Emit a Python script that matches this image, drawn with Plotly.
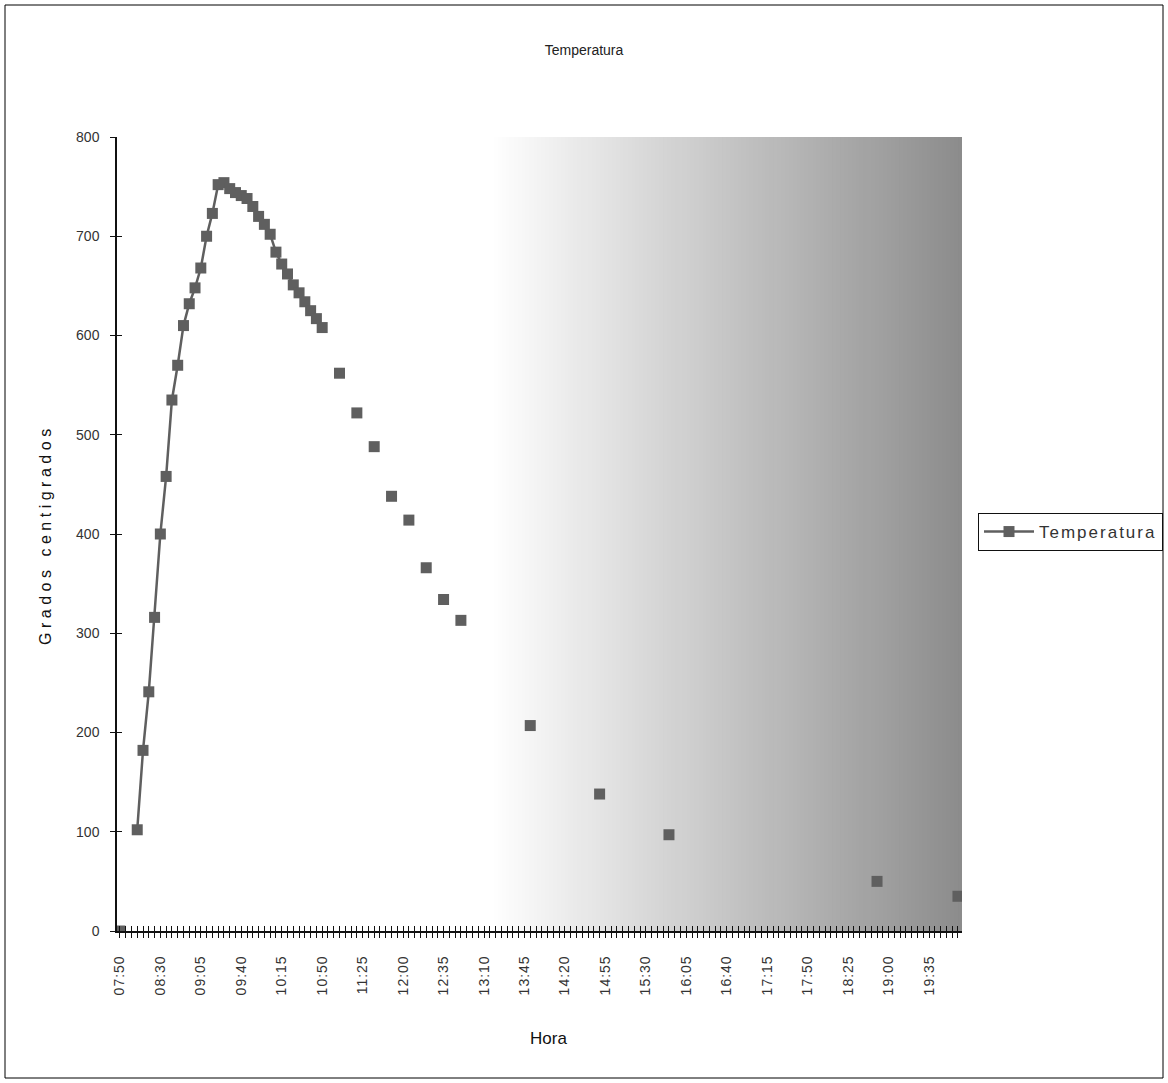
import plotly.graph_objects as go

# ---- data ----
horas_medidas = [
    "07:50",
    "08:10", "08:15", "08:20", "08:25", "08:30", "08:35", "08:40", "08:45",
    "08:50", "08:55", "09:00", "09:05", "09:10", "09:15", "09:20", "09:25",
    "09:30", "09:35", "09:40", "09:45", "09:50", "09:55", "10:00", "10:05",
    "10:10", "10:15", "10:20", "10:25", "10:30", "10:35", "10:40", "10:45",
    "10:50",
    "11:05", "11:20", "11:35", "11:50", "12:05", "12:20", "12:35", "12:50",
    "13:50", "14:50", "15:50", "18:50", "20:00",
]
temperatura = [
    0,
    102, 182, 241, 316, 400, 458, 535, 570,
    610, 632, 648, 668, 700, 723, 752, 754,
    748, 744, 741, 738, 730, 720, 712, 702,
    684, 672, 662, 651, 643, 634, 625, 617,
    608,
    562, 522, 488, 438, 414, 366, 334, 313,
    207, 138, 97, 50, 35,
]
y_ticks = [0, 100, 200, 300, 400, 500, 600, 700, 800]

# category axis: 07:50, then every 5 minutes from 08:00 to 20:00
categorias = ["07:50"]
for m in range(8 * 60, 20 * 60 + 1, 5):
    categorias.append(f"{m // 60:02d}:{m % 60:02d}")

lookup = dict(zip(horas_medidas, temperatura))
xs = list(range(len(categorias)))
ys = [lookup.get(c) for c in categorias]
label_idx = list(range(0, len(categorias), 7))
label_txt = [f'<span style="letter-spacing:1px">{categorias[i]}</span>'
             for i in label_idx]

COL = "#5f5f5f"
FONT = "Liberation Sans, Arial, sans-serif"

fig = go.Figure()
fig.add_trace(go.Scatter(
    x=xs, y=ys, mode="lines+markers",
    name='<span style="letter-spacing:2px">Temperatura</span>',
    connectgaps=False,
    line=dict(color=COL, width=2.5),
    marker=dict(symbol="square", size=11, color=COL),
))

# plot geometry in reference pixels (page body margin removed below)
L, R, T, B = 117, 962, 137, 931
W, H = 1168, 1083
pw, ph = R - L, B - T

# gradient background (white -> gray) on the right part of the plot area
g0 = (490 - L) / pw
n = 120
shapes = []
for i in range(n):
    f0 = g0 + (1 - g0) * i / n
    f1 = g0 + (1 - g0) * (i + 1) / n
    t = (i + 0.5) / n
    v = int(round(255 - t * (255 - 140)))
    shapes.append(dict(type="rect", xref="paper", yref="paper",
                       x0=f0, x1=min(1.0, f1 + 0.003), y0=0, y1=1,
                       fillcolor=f"rgb({v},{v},{v})", line=dict(width=0),
                       layer="below"))
# outer border
shapes.append(dict(type="rect", xref="paper", yref="paper",
                   x0=(5 - L) / pw, x1=(1163 - L) / pw,
                   y0=(B - 1078) / ph, y1=(B - 5) / ph,
                   line=dict(color="black", width=1), fillcolor="rgba(0,0,0,0)"))

xr = [-0.5, 145.7]
axis_common = dict(showgrid=False, zeroline=False, showline=True,
                   linecolor="#111", linewidth=1.5)

fig.update_layout(
    width=W, height=H, autosize=False,
    margin=dict(l=L, r=W - R, t=T, b=H - B, autoexpand=False),
    paper_bgcolor="white", plot_bgcolor="white",
    font=dict(family=FONT, color="#222"),
    title=dict(text="Temperatura", x=584 / W, xanchor="center",
               y=1 - 50 / H, yanchor="middle",
               font=dict(size=14, family=FONT, color="#222")),
    shapes=shapes,
    xaxis=dict(**axis_common, range=xr, tickmode="array",
               tickvals=label_idx, ticktext=label_txt, tickangle=-90,
               ticks="outside", ticklen=5, tickwidth=1.3, tickcolor="#111",
               ticklabelstandoff=12,
               tickfont=dict(size=14, family=FONT, color="#333"),
               minor=dict(dtick=1, tick0=0, ticks="outside", ticklen=5,
                          tickwidth=1.3, tickcolor="#111")),
    xaxis2=dict(overlaying="x", matches="x", range=xr, showline=False,
                showgrid=False, zeroline=False, showticklabels=False,
                tickmode="array", tickvals=label_idx,
                ticks="inside", ticklen=5, tickwidth=1.3, tickcolor="#111",
                side="bottom",
                minor=dict(dtick=1, tick0=0, ticks="inside", ticklen=5,
                           tickwidth=1.3, tickcolor="#111")),
    yaxis=dict(**axis_common, range=[0, 800], tickmode="array",
               tickvals=y_ticks, ticks="outside", ticklen=5, tickwidth=1.3,
               tickcolor="#111", ticklabelstandoff=8,
               tickfont=dict(size=14, family=FONT, color="#333")),
    yaxis2=dict(overlaying="y", matches="y", range=[0, 800], side="left",
                showline=False, showgrid=False, zeroline=False,
                showticklabels=False, tickmode="array", tickvals=y_ticks,
                ticks="inside", ticklen=5, tickwidth=1.3, tickcolor="#111"),
    legend=dict(x=(978 - L) / pw, xanchor="left", y=(B - 532) / ph,
                yanchor="middle", bordercolor="#111", borderwidth=1,
                bgcolor="white", itemwidth=50,
                font=dict(size=17, family=FONT, color="#333")),
    annotations=[
        dict(text='<span style="letter-spacing:4.5px">Grados centigrados</span>',
             xref="paper", yref="paper", x=(45 - L) / pw, y=(B - 535) / ph,
             textangle=-90, showarrow=False, xanchor="center", yanchor="middle",
             font=dict(size=16, family=FONT, color="#111")),
        dict(text="Hora", xref="paper", yref="paper", x=(548 - L) / pw,
             y=(B - 1038) / ph, showarrow=False, xanchor="center",
             yanchor="middle", font=dict(size=17, family=FONT, color="#111")),
    ],
)

# invisible helper trace so the overlay axes (cross ticks) are drawn
fig.add_trace(go.Scatter(x=[0], y=[0], xaxis="x2", yaxis="y2", mode="markers",
                         marker=dict(opacity=0), showlegend=False,
                         hoverinfo="skip"))

fig.write_html(
    "out.html",
    config={"responsive": False, "displayModeBar": False},
    post_script="document.body.style.margin='0';",
)
